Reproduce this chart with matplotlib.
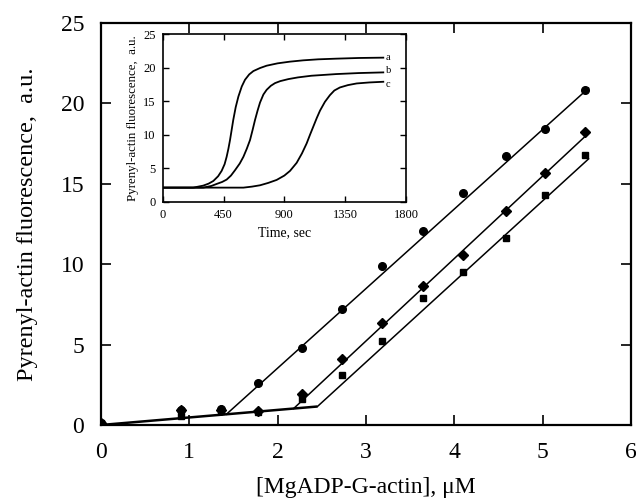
import matplotlib
matplotlib.use("Agg")
import matplotlib.pyplot as plt

plt.rcParams['font.family'] = ['Liberation Serif', 'DejaVu Serif']

# ---- main data ----
conc = [0.0, 0.9, 1.36, 1.78, 2.28, 2.73, 3.18, 3.65, 4.10, 4.58, 5.03, 5.48]
fl_a = [0.15, 0.95, 1.0, 2.6, 4.8, 7.2, 9.9, 12.05, 14.45, 16.75, 18.4, 20.85]
fl_b = [0.15, 0.95, 0.95, 0.9, 1.95, 4.1, 6.35, 8.65, 10.6, 13.3, 15.7, 18.2]
fl_c = [0.1, 0.55, 0.85, 0.8, 1.6, 3.1, 5.2, 7.9, 9.5, 11.65, 14.3, 16.8]

# fitted lines (endpoints)
base_x = [0.0, 2.45]
base_y = [0.0, 1.15]
fit_a_x = [1.42, 5.52]
fit_a_y = [0.67, 20.95]
fit_b_x = [2.18, 5.52]
fit_b_y = [1.02, 18.15]
fit_c_x = [2.45, 5.52]
fit_c_y = [1.15, 16.55]

# ---- inset data (time courses) ----
t_a = [0, 226, 300, 340, 375, 410, 436, 458, 473, 486, 498, 510, 522, 540, 560, 585, 609,
       640, 671, 720, 769, 850, 940, 1040, 1150, 1285, 1450, 1632]
v_a = [2.1, 2.1, 2.4, 2.7, 3.1, 3.8, 4.6, 5.6, 6.7, 7.9, 9.2, 10.7, 12.2, 14.1, 15.7, 17.2, 18.2,
       19.0, 19.5, 19.95, 20.3, 20.65, 20.9, 21.1, 21.25, 21.35, 21.45, 21.5]
t_b = [0, 300, 360, 399, 440, 473, 505, 535, 570, 597, 622, 646, 665, 683, 702, 720, 745, 769,
       800, 831, 870, 930, 1000, 1100, 1285, 1450, 1632]
v_b = [2.1, 2.1, 2.35, 2.65, 2.95, 3.3, 3.9, 4.7, 5.7, 6.7, 7.9, 9.2, 10.7, 12.2, 13.6, 14.8, 16.0, 16.7,
       17.3, 17.7, 18.0, 18.3, 18.55, 18.8, 19.05, 19.2, 19.3]
t_c = [0, 597, 660, 720, 780, 843, 900, 942, 991, 1030, 1065, 1090, 1114, 1140, 1164, 1200, 1237,
       1270, 1311, 1370, 1435, 1530, 1632]
v_c = [2.1, 2.1, 2.25, 2.45, 2.8, 3.25, 3.9, 4.6, 5.8, 7.2, 8.7, 10.0, 11.2, 12.5, 13.6, 14.9, 15.9,
       16.6, 17.05, 17.4, 17.65, 17.8, 17.9]
curve_labels = ['a', 'b', 'c']
label_nudge = [0.0, 0.35, -0.35]

fig = plt.figure(figsize=(6.36, 5.04), dpi=100)
ax = fig.add_axes([101/636, 79/504, 530/636, 402/504])

lw_fit = 1.1
ax.plot(base_x, base_y, color='black', lw=1.8, solid_capstyle='butt')
ax.plot(fit_a_x, fit_a_y, color='black', lw=lw_fit)
ax.plot(fit_b_x, fit_b_y, color='black', lw=lw_fit)
ax.plot(fit_c_x, fit_c_y, color='black', lw=lw_fit)
ax.plot(conc, fl_c, 's', color='black', ms=4.2, ls='none')
ax.plot(conc, fl_b, 'D', color='black', ms=5.0, ls='none')
ax.plot(conc, fl_a, 'o', color='black', ms=5.5, ls='none')

ax.set_xlim(0, 6)
ax.set_ylim(0, 25)
ax.set_xticks([0, 1, 2, 3, 4, 5, 6])
ax.set_yticks([0, 5, 10, 15, 20, 25])
ax.tick_params(direction='in', length=7, width=1.2, top=True, right=True,
               labelsize=17, pad=12)
for s in ax.spines.values():
    s.set_linewidth(1.6)
ax.set_xlabel('[MgADP-G-actin], μM', fontsize=17, labelpad=10)
ax.set_ylabel('Pyrenyl-actin fluorescence,  a.u.', fontsize=17.5, labelpad=16)

# ---- inset ----
ax2 = fig.add_axes([162.7/636, (504-201.7)/504, 243.3/636, 167.5/504])
for t, v, lab, dn in zip([t_a, t_b, t_c], [v_a, v_b, v_c], curve_labels, label_nudge):
    ax2.plot(t, v, color='black', lw=1.3, solid_joinstyle='round')
    ax2.text(t[-1] + 20, v[-1] + dn, lab, fontsize=7.5, va='center', ha='left')
ax2.set_xlim(0, 1800)
ax2.set_ylim(0, 25)
ax2.set_xticks([0, 450, 900, 1350, 1800])
ax2.set_yticks([0, 5, 10, 15, 20, 25])
ax2.tick_params(direction='in', length=4, width=1.0, top=True, right=True,
                labelsize=9, pad=5)
for s in ax2.spines.values():
    s.set_linewidth(1.2)
ax2.set_xlabel('Time, sec', fontsize=10, labelpad=4)
ax2.set_ylabel('Pyrenyl-actin fluorescence,  a.u.', fontsize=9.3, labelpad=3)

fig.savefig('out.png', dpi=100)
